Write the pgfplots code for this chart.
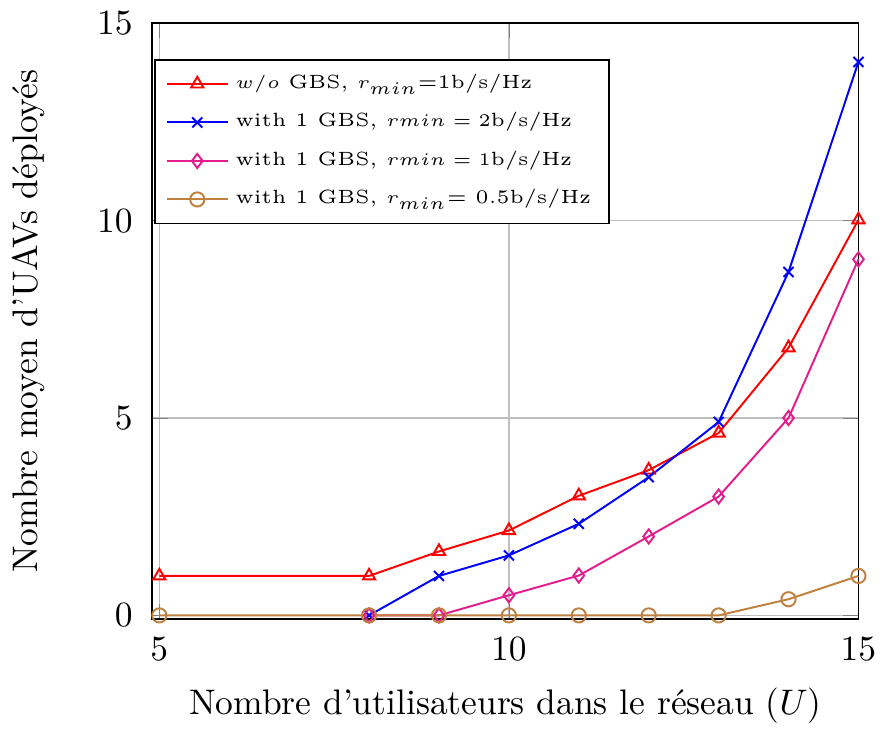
\documentclass[border=0pt]{standalone}
\usepackage{pgfplots}
\pgfplotsset{compat=1.18}
\definecolor{mymag}{RGB}{228,28,140}
\begin{document}
\begin{tikzpicture}
\begin{axis}[
  scale only axis,
  width=199pt, height=168pt,
  xmin=4.9, xmax=15, ymin=-0.1, ymax=15,
  xtick={5,10,15}, ytick={0,5,10,15},
  grid=major,
  axis line style={line width=0.5pt},
  every axis plot/.append style={line width=0.55pt},
  xlabel={Nombre d'utilisateurs dans le réseau ($U$)},
  ylabel={Nombre moyen d'UAVs déployés},
  ylabel style={yshift=8pt},
  yticklabel style={xshift=-2pt},
  xticklabel style={yshift=-1.5pt},
  xlabel style={yshift=-1pt},
  legend style={font=\fontsize{5.4}{6.6}\selectfont, at={(0.003,0.94)}, anchor=north west, legend cell align=left, line width=0.5pt, row sep=1.3pt},
  clip=false,
]
\addplot[red, mark=triangle, mark options={solid}] coordinates {
 (5,1) (8,1) (9,1.62) (10,2.15) (11,3.03) (12,3.68) (13,4.62) (14,6.78) (15,10.02)};
\addlegendentry{$w/o$ GBS, $r_{min}$=1b/s/Hz}
\addplot[blue, mark=x] coordinates {
 (8,0) (9,1.0) (10,1.52) (11,2.32) (12,3.5) (13,4.9) (14,8.7) (15,14.02)};
\addlegendentry{with 1 GBS, $rmin = 2$b/s/Hz}
\addplot[mymag, mark=diamond] coordinates {
 (8,0) (9,0) (10,0.51) (11,1.01) (12,2.0) (13,3.01) (14,5.0) (15,9.02)};
\addlegendentry{with 1 GBS, $rmin = 1$b/s/Hz}
\addplot[brown, mark=o] coordinates {
 (5,0) (8,0) (9,0) (10,0) (11,0) (12,0) (13,0) (14,0.41) (15,1.0)};
\addlegendentry{with 1 GBS, $r_{min}$= 0.5b/s/Hz}
\end{axis}
\end{tikzpicture}
\end{document}
